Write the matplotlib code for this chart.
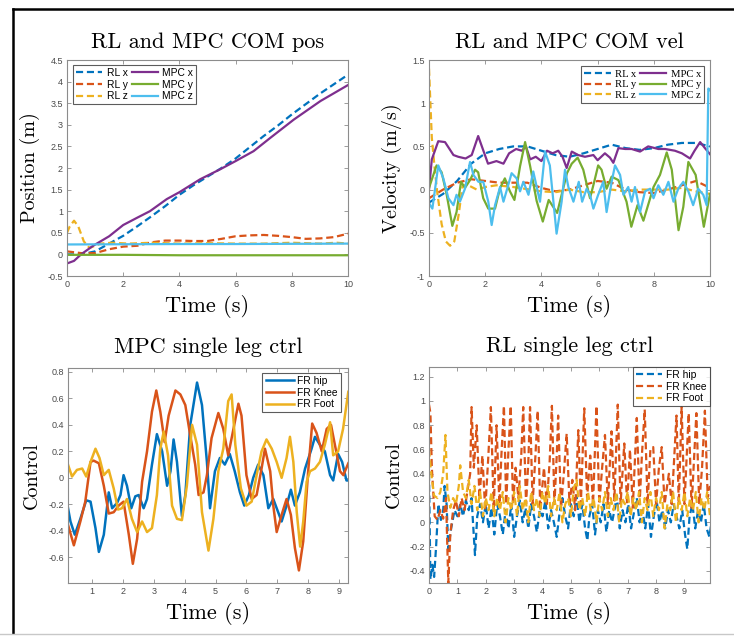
import matplotlib
matplotlib.use("Agg")
import matplotlib.pyplot as plt
from matplotlib.lines import Line2D

plt.rcParams['axes.unicode_minus'] = False

# ---- colours (MATLAB defaults)
C_BLUE = '#0072BD'
C_ORANGE = '#D95319'
C_YELLOW = '#EDB120'
C_PURPLE = '#7E2F8E'
C_GREEN = '#77AC30'
C_CYAN = '#4DBEEE'

# ---- COM position (top left)
pos_t = [0, 0.5, 1, 1.5, 2, 2.5, 3, 3.5, 4, 4.5, 5, 5.5, 6, 6.5, 7, 7.5, 8, 8.5, 9, 9.5, 10]
rl_px = [0.0, 0.0, 0.07, 0.25, 0.43, 0.65, 0.88, 1.12, 1.38, 1.6, 1.8, 2.0, 2.22, 2.48, 2.74,
         2.98, 3.24, 3.48, 3.72, 3.94, 4.16]
rl_py = [0.07, 0.03, 0.03, 0.12, 0.18, 0.2, 0.28, 0.32, 0.32, 0.31, 0.31, 0.36, 0.42, 0.44, 0.45,
         0.43, 0.4, 0.36, 0.37, 0.4, 0.48]
rl_pz_t = [0, 0.1, 0.25, 0.4, 0.6, 0.8, 1.0, 1.2, 1.6, 2.2, 3, 4, 5, 6, 7, 8, 9, 9.6, 10]
rl_pz = [0.5, 0.65, 0.78, 0.65, 0.3, 0.15, 0.2, 0.25, 0.27, 0.25, 0.27, 0.25, 0.26, 0.25, 0.25,
         0.27, 0.25, 0.27, 0.25]
mpc_px_t = [0, 0.25, 0.5, 0.93, 1.5, 2, 2.5, 2.95, 3.55, 4, 4.74, 5.45, 6, 6.64, 7.24, 8.07, 9.02, 10]
mpc_px = [-0.21, -0.15, 0.0, 0.2, 0.42, 0.68, 0.85, 1.0, 1.28, 1.44, 1.74, 1.97, 2.16, 2.39, 2.7,
          3.12, 3.55, 3.92]
mpc_py_t = [0, 2, 4, 6, 8, 10]
mpc_py = [-0.01, -0.01, -0.02, -0.02, -0.02, -0.02]
mpc_pz = [0.23, 0.235, 0.24, 0.24, 0.245, 0.25]

# ---- COM velocity (top right)
vel_t = [0, 0.5, 1, 1.5, 2, 2.5, 3, 3.5, 4, 4.5, 5, 5.5, 6, 6.5, 7, 7.5, 8, 8.5, 9, 9.5, 10]
rl_vx = [-0.15, -0.05, 0.1, 0.3, 0.42, 0.47, 0.5, 0.5, 0.45, 0.4, 0.38, 0.42, 0.47, 0.52, 0.48,
         0.46, 0.48, 0.52, 0.54, 0.54, 0.5]
rl_vy = [-0.1, 0.0, 0.08, 0.12, 0.1, 0.08, 0.08, 0.08, 0.02, -0.02, 0.0, 0.05, 0.1, 0.08, 0.0,
         -0.03, -0.04, 0.0, 0.05, 0.1, 0.02]
rl_vz_t = [0, 0.05, 0.1, 0.2, 0.3, 0.45, 0.6, 0.75, 0.9, 1.05, 1.2, 1.4, 1.7, 2, 2.4, 3, 3.6, 4,
           4.5, 5, 5.5, 6, 6.5, 7, 7.5, 8, 8.5, 9, 9.5, 10]
rl_vz = [1.4, 1.0, 0.6, 0.25, -0.05, -0.4, -0.6, -0.65, -0.6, -0.3, 0.05, 0.05, 0.0, 0.03, 0.05,
         0.03, 0.0, -0.02, -0.03, 0.0, -0.03, -0.03, 0.0, -0.02, 0.0, 0.0, 0.0, 0.02, -0.02, -0.05]
mpc_vx_t = [0, 0.1, 0.33, 0.57, 0.87, 1.04, 1.3, 1.52, 1.75, 2.1, 2.4, 2.65, 2.85, 3.1, 3.3, 3.45,
            3.6, 3.8, 4.0, 4.2, 4.4, 4.6, 4.75, 4.9, 5.08, 5.31, 5.55, 5.85, 6.0, 6.26, 6.44, 6.56,
            6.74, 6.98, 7.21, 7.51, 7.8, 8.16, 8.4, 8.75, 9.0, 9.29, 9.45, 9.65, 9.82, 10]
mpc_vx = [0.0, 0.35, 0.56, 0.55, 0.4, 0.38, 0.36, 0.4, 0.62, 0.3, 0.33, 0.3, 0.42, 0.47, 0.45,
          0.5, 0.35, 0.38, 0.33, 0.45, 0.42, 0.45, 0.38, 0.25, 0.44, 0.4, 0.38, 0.4, 0.34, 0.42,
          0.37, 0.31, 0.48, 0.47, 0.47, 0.44, 0.5, 0.47, 0.47, 0.45, 0.42, 0.36, 0.45, 0.55, 0.48,
          0.41]
mpc_vy_t = [0, 0.27, 0.45, 0.63, 0.83, 0.98, 1.14, 1.28, 1.46, 1.64, 1.75, 1.93, 2.11, 2.35, 2.53,
            2.7, 2.88, 3.04, 3.24, 3.42, 3.6, 3.83, 4.05, 4.26, 4.56, 4.91, 5.08, 5.29, 5.49, 5.73,
            5.88, 6.02, 6.14, 6.32, 6.5, 6.74, 7.03, 7.2, 7.42, 7.63, 7.99, 8.22, 8.46, 8.64, 8.88,
            9.05, 9.23, 9.49, 9.78, 10]
mpc_vy = [0.02, 0.28, 0.2, -0.06, -0.42, -0.26, 0.09, 0.02, 0.11, 0.23, 0.2, -0.1, -0.22, -0.22,
          0.02, 0.13, -0.02, -0.12, 0.27, 0.55, 0.27, -0.13, -0.37, -0.12, -0.27, 0.19, 0.3, 0.37,
          0.23, -0.1, 0.09, 0.28, 0.23, 0.01, 0.15, 0.11, -0.14, -0.43, -0.18, -0.36, 0.03, 0.17,
          0.43, 0.23, -0.47, -0.2, 0.32, 0.17, -0.43, -0.05]
mpc_vz_t = [0, 0.04, 0.12, 0.33, 0.51, 0.69, 0.87, 0.98, 1.1, 1.28, 1.46, 1.58, 1.76, 1.93, 2.11,
            2.23, 2.35, 2.53, 2.65, 2.8, 2.94, 3.12, 3.24, 3.36, 3.54, 3.71, 3.95, 4.13, 4.3, 4.54,
            4.72, 4.84, 4.96, 5.14, 5.33, 5.45, 5.61, 5.73, 5.85, 6.02, 6.2, 6.32, 6.5, 6.62, 6.8,
            6.92, 7.09, 7.21, 7.33, 7.51, 7.69, 7.87, 7.99, 8.16, 8.34, 8.52, 8.7, 8.87, 9.05,
            9.23, 9.4, 9.58, 9.76, 9.88, 9.94, 10]
mpc_vz = [-0.15, -0.18, -0.22, 0.28, 0.13, -0.1, -0.18, -0.06, -0.14, 0.01, 0.32, 0.17, 0.09,
          0.09, -0.14, -0.41, -0.18, 0.03, -0.14, 0.03, 0.19, 0.13, -0.02, 0.09, -0.06, 0.21,
          -0.14, 0.44, 0.28, -0.51, -0.14, 0.23, 0.03, -0.14, 0.09, -0.14, 0.01, -0.06, -0.22,
          -0.06, 0.09, -0.26, 0.09, 0.28, 0.17, -0.06, 0.03, -0.14, 0.03, -0.26, -0.02, 0.01,
          -0.1, 0.05, -0.06, 0.09, -0.14, 0.01, 0.09, -0.02, -0.18, 0.01, -0.06, -0.18, 1.17, 1.15]

# ---- MPC single leg control (bottom left)
hip_t = [0.19, 0.3, 0.44, 0.62, 0.81, 0.95, 1.11, 1.22, 1.38, 1.54, 1.65, 1.81, 1.92, 2.02, 2.13,
         2.27, 2.4, 2.51, 2.67, 2.78, 2.94, 3.1, 3.27, 3.43, 3.54, 3.64, 3.75, 3.91, 4.02, 4.18,
         4.4, 4.56, 4.72, 4.82, 4.98, 5.14, 5.3, 5.46, 5.62, 5.79, 5.93, 6.08, 6.22, 6.38, 6.55,
         6.71, 6.87, 6.98, 7.14, 7.3, 7.44, 7.57, 7.73, 7.9, 8.11, 8.22, 8.38, 8.54, 8.71, 8.81,
         8.97, 9.1, 9.24, 9.3]
hip_u = [-0.19, -0.33, -0.43, -0.31, -0.17, -0.18, -0.38, -0.56, -0.43, -0.11, -0.23, -0.19,
         -0.13, 0.02, -0.06, -0.23, -0.14, -0.13, -0.23, -0.16, 0.1, 0.33, 0.2, -0.06, 0.05, 0.29,
         0.12, -0.29, -0.13, 0.4, 0.72, 0.55, 0.12, -0.23, 0.05, 0.15, 0.1, 0.18, 0.05, -0.11,
         -0.21, -0.13, 0.0, 0.1, 0.02, -0.23, -0.16, -0.23, -0.33, -0.21, -0.09, -0.21, -0.11,
         0.07, 0.22, 0.31, 0.25, 0.2, 0.02, -0.02, 0.18, 0.12, -0.02, -0.02]
knee_t = [0.19, 0.41, 0.62, 0.78, 0.95, 1.05, 1.22, 1.38, 1.54, 1.7, 1.86, 2.02, 2.19, 2.32, 2.46,
          2.62, 2.78, 2.94, 3.08, 3.21, 3.35, 3.48, 3.7, 3.86, 4.02, 4.18, 4.34, 4.45, 4.61, 4.72,
          4.87, 5.09, 5.25, 5.41, 5.58, 5.74, 5.84, 6.0, 6.17, 6.33, 6.49, 6.6, 6.77, 6.87, 6.98,
          7.14, 7.3, 7.44, 7.57, 7.7, 7.84, 8.0, 8.13, 8.27, 8.44, 8.6, 8.74, 8.89, 9.03, 9.14, 9.3]
knee_u = [-0.33, -0.51, -0.33, -0.18, 0.12, 0.13, 0.11, -0.06, -0.27, -0.26, -0.21, -0.18, -0.43,
          -0.65, -0.46, -0.03, 0.2, 0.5, 0.66, 0.5, 0.27, 0.47, 0.66, 0.63, 0.55, 0.32, 0.1, -0.13,
          -0.11, 0.02, 0.3, 0.49, 0.37, 0.17, 0.37, 0.56, 0.47, 0.02, -0.16, -0.13, 0.07, 0.22,
          0.05, -0.21, -0.41, -0.28, -0.16, -0.28, -0.53, -0.7, -0.48, 0.05, 0.41, 0.34, 0.2, 0.37,
          0.4, 0.22, 0.05, 0.02, 0.11]
foot_t = [0.19, 0.35, 0.51, 0.68, 0.81, 0.95, 1.11, 1.24, 1.38, 1.54, 1.7, 1.84, 1.97, 2.13, 2.29,
          2.46, 2.62, 2.78, 2.94, 3.1, 3.21, 3.32, 3.46, 3.59, 3.75, 3.91, 4.07, 4.24, 4.4, 4.56,
          4.77, 4.93, 5.09, 5.25, 5.41, 5.52, 5.64, 5.82, 6.0, 6.17, 6.33, 6.49, 6.65, 6.82, 6.98,
          7.14, 7.3, 7.41, 7.52, 7.63, 7.74, 7.84, 7.95, 8.06, 8.22, 8.38, 8.54, 8.71, 8.81, 8.97,
          9.13, 9.3]
foot_u = [0.12, 0.01, 0.06, 0.07, 0.01, 0.12, 0.22, 0.15, 0.02, 0.06, -0.08, -0.24, -0.23, -0.16,
          -0.31, -0.41, -0.33, -0.41, -0.38, -0.13, 0.22, 0.35, 0.17, -0.21, -0.31, -0.32, -0.06,
          0.4, 0.25, -0.26, -0.55, -0.31, 0.05, 0.22, 0.58, 0.63, 0.25, -0.08, -0.21, -0.18, 0.02,
          0.2, 0.29, 0.22, 0.12, 0.0, 0.15, 0.31, 0.12, -0.26, -0.52, -0.33, -0.03, 0.05, 0.07,
          0.12, 0.25, 0.42, 0.17, 0.2, 0.37, 0.65]

# ---- RL single leg control (bottom right)
rl_knee_t = [0.0, 0.05, 0.1, 0.2, 0.3, 0.4, 0.5, 0.6, 0.68, 0.75, 0.85, 0.95, 1.05, 1.15, 1.25,
             1.35, 1.45, 1.5, 1.58, 1.68, 1.78, 1.88, 1.98, 2.08, 2.18, 2.28, 2.38, 2.48, 2.55,
             2.64, 2.72, 2.8, 2.88, 2.96, 3.05, 3.15, 3.25, 3.32, 3.42, 3.5, 3.56, 3.65, 3.75,
             3.83, 3.92, 4.05, 4.15, 4.25, 4.33, 4.42, 4.5, 4.55, 4.65, 4.75, 4.85, 4.95, 5.05,
             5.15, 5.26, 5.35, 5.47, 5.57, 5.68, 5.78, 5.9, 6.0, 6.1, 6.2, 6.3, 6.43, 6.53, 6.65,
             6.75, 6.88, 6.98, 7.08, 7.18, 7.32, 7.42, 7.5, 7.6, 7.7, 7.8, 7.9, 8.0, 8.1, 8.2,
             8.3, 8.45, 8.55, 8.72, 8.8, 8.9, 9.0, 9.15, 9.25, 9.42, 9.52, 9.62, 9.72, 9.82, 9.9]
rl_knee_u = [0.97, 0.9, 0.45, 0.05, 0.02, 0.1, 0.03, 0.2, -0.5, -0.1, 0.1, 0.18, 0.05, 0.2, 0.1,
             0.25, 0.4, 0.95, 0.45, 0.8, 0.2, 0.55, 0.1, 0.5, 0.95, 0.1, 0.8, 0.15, 0.55, 0.96,
             0.15, 0.6, 0.96, 0.15, 0.45, 0.2, 0.55, 0.95, 0.15, 0.5, 0.95, 0.15, 0.55, 0.92, 0.1,
             0.45, 0.15, 0.5, 0.96, 0.15, 0.55, 0.88, 0.12, 0.4, 0.73, 0.15, 0.35, 0.1, 0.76, 0.15,
             0.94, 0.2, 0.55, 0.15, 0.96, 0.15, 0.45, 0.72, 0.15, 0.75, 0.18, 0.97, 0.15, 0.65,
             0.15, 0.6, 0.12, 0.86, 0.15, 0.55, 0.93, 0.15, 0.6, 0.62, 0.15, 0.45, 0.62, 0.15,
             0.4, 0.15, 0.88, 0.15, 0.95, 0.15, 0.9, 0.12, 0.9, 0.15, 0.45, 0.92, 0.2, 0.3]
rl_hip_t = [0.0, 0.05, 0.12, 0.18, 0.25, 0.33, 0.42, 0.5, 0.55, 0.62, 0.68, 0.78, 0.9, 1.0, 1.1,
            1.2, 1.3, 1.4, 1.5, 1.55, 1.62, 1.7, 1.8, 1.9, 2.0, 2.1, 2.2, 2.3, 2.4, 2.5, 2.6, 2.7,
            2.8, 2.9, 3.0, 3.1, 3.2, 3.3, 3.4, 3.5, 3.6, 3.7, 3.8, 3.9, 4.0, 4.1, 4.2, 4.3, 4.4,
            4.5, 4.6, 4.7, 4.8, 4.9, 5.0, 5.1, 5.2, 5.3, 5.4, 5.5, 5.58, 5.65, 5.75, 5.85, 5.95,
            6.05, 6.15, 6.25, 6.35, 6.45, 6.55, 6.62, 6.72, 6.82, 6.92, 7.02, 7.12, 7.22, 7.32,
            7.42, 7.52, 7.62, 7.72, 7.82, 7.92, 8.02, 8.12, 8.22, 8.32, 8.42, 8.52, 8.62, 8.72,
            8.82, 8.92, 9.02, 9.1, 9.18, 9.28, 9.38, 9.48, 9.58, 9.68, 9.78, 9.88, 9.95]
rl_hip_u = [0.4, -0.47, -0.35, -0.45, -0.2, 0.15, 0.02, 0.1, 0.3, 0.15, -0.22, -0.05, 0.1, 0.05,
            0.15, 0.05, 0.18, 0.1, 0.2, 0.0, -0.27, 0.05, 0.15, 0.0, 0.15, -0.05, 0.12, -0.1, 0.15,
            0.05, -0.1, 0.1, -0.05, 0.15, -0.12, 0.05, 0.18, 0.0, 0.12, -0.05, 0.15, 0.05, -0.08,
            0.1, 0.05, 0.18, -0.05, 0.1, 0.0, -0.12, 0.08, 0.2, 0.05, -0.05, 0.15, 0.05, 0.22, 0.0,
            0.15, -0.05, -0.15, 0.05, 0.15, -0.1, 0.1, 0.0, 0.15, -0.08, 0.1, 0.0, 0.12, 0.22,
            -0.05, 0.1, 0.0, 0.15, -0.05, 0.08, 0.2, 0.0, 0.1, -0.05, 0.15, -0.12, 0.05, 0.18, 0.0,
            0.1, -0.05, 0.1, 0.0, 0.15, 0.05, -0.05, 0.1, -0.1, -0.22, 0.05, 0.15, -0.05, 0.1, 0.0,
            0.15, -0.05, -0.12, 0.0]
rl_foot_t = [0.0, 0.08, 0.18, 0.3, 0.4, 0.5, 0.58, 0.65, 0.75, 0.85, 0.95, 1.05, 1.1, 1.2, 1.3,
             1.4, 1.5, 1.6, 1.7, 1.8, 1.9, 2.0, 2.1, 2.2, 2.3, 2.4, 2.5, 2.6, 2.7, 2.8, 2.9, 3.0,
             3.1, 3.2, 3.3, 3.4, 3.5, 3.6, 3.7, 3.8, 3.9, 4.0, 4.1, 4.2, 4.3, 4.4, 4.5, 4.6, 4.7,
             4.8, 4.9, 5.0, 5.1, 5.2, 5.3, 5.4, 5.5, 5.6, 5.7, 5.8, 5.9, 6.0, 6.1, 6.2, 6.3, 6.4,
             6.5, 6.6, 6.7, 6.8, 6.9, 7.0, 7.1, 7.2, 7.3, 7.4, 7.5, 7.6, 7.7, 7.8, 7.9, 8.0, 8.1,
             8.2, 8.3, 8.4, 8.5, 8.6, 8.7, 8.8, 8.9, 9.0, 9.1, 9.2, 9.3, 9.4, 9.5, 9.6, 9.7, 9.8,
             9.9]
rl_foot_u = [0.6, 0.4, 0.22, 0.2, 0.25, 0.4, 0.72, 0.25, 0.12, 0.2, 0.15, 0.3, 0.47, 0.25, 0.2,
             0.35, 0.15, 0.3, 0.1, 0.25, 0.05, 0.2, 0.1, 0.25, 0.05, 0.2, 0.1, 0.25, 0.0, 0.2, 0.1,
             0.25, 0.05, 0.3, 0.1, 0.2, 0.0, 0.25, 0.1, 0.2, 0.05, 0.25, 0.15, 0.3, 0.05, 0.2, 0.1,
             0.25, 0.0, 0.15, 0.2, 0.05, 0.28, 0.35, 0.1, 0.2, 0.05, 0.25, 0.1, 0.2, 0.0, 0.2, 0.1,
             0.25, 0.05, 0.2, 0.1, 0.25, 0.0, 0.2, 0.15, 0.25, 0.05, 0.2, 0.1, 0.25, 0.0, 0.2, 0.1,
             0.25, 0.05, 0.2, 0.1, 0.25, -0.05, 0.15, 0.1, 0.25, 0.0, 0.2, 0.1, 0.25, 0.05, 0.2,
             0.1, 0.25, 0.0, 0.2, 0.1, 0.25, 0.05]

SERIF = 'cmr10'
SANS = 'Liberation Sans'
TXT = '#4a4a4a'
SPINE = '#8c8c8c'
DASH = (0, (3.2, 1.7))
LW = 1.6

fig = plt.figure(figsize=(7.34, 6.43), dpi=100)


def style_axes(ax, title, ylabel, title_pad):
    ax.set_title(title, fontfamily=SERIF, fontsize=16, pad=title_pad)
    ax.set_xlabel('Time (s)', fontfamily=SERIF, fontsize=16, labelpad=4)
    ax.set_ylabel(ylabel, fontfamily=SERIF, fontsize=14.5, labelpad=5)
    for sp in ax.spines.values():
        sp.set_color(SPINE)
        sp.set_linewidth(0.8)
    ax.tick_params(direction='in', length=3, width=0.6, color=SPINE, labelcolor=TXT,
                   labelsize=6.5, top=True, right=True, pad=3)
    for lab in ax.get_xticklabels() + ax.get_yticklabels():
        lab.set_fontfamily(SANS)


def fmt(vals):
    out = []
    for v in vals:
        s = ('%.1f' % v).rstrip('0').rstrip('.')
        out.append('0' if s in ('-0', '') else s)
    return out


# ---------- top left
ax1 = fig.add_axes([67 / 734, 1 - 276 / 643, 281 / 734, 216 / 643])
h1, = ax1.plot(pos_t, rl_px, color=C_BLUE, lw=LW, ls=DASH, label='RL x')
h2, = ax1.plot(pos_t, rl_py, color=C_ORANGE, lw=LW, ls=DASH, label='RL y')
h3, = ax1.plot(rl_pz_t, rl_pz, color=C_YELLOW, lw=LW, ls=DASH, label='RL z')
h4, = ax1.plot(mpc_px_t, mpc_px, color=C_PURPLE, lw=LW, label='MPC x')
h5, = ax1.plot(mpc_py_t, mpc_py, color=C_GREEN, lw=LW, label='MPC y')
h6, = ax1.plot(mpc_py_t, mpc_pz, color=C_CYAN, lw=LW, label='MPC z')
ax1.set_xlim(0, 10)
ax1.set_ylim(-0.5, 4.5)
yt = [-0.5 + 0.5 * i for i in range(11)]
ax1.set_yticks(yt, fmt(yt))
ax1.set_xticks([0, 2, 4, 6, 8, 10], ['0', '2', '4', '6', '8', '10'])
style_axes(ax1, 'RL and MPC COM pos', 'Position (m)', 9)
leg = ax1.legend(handles=[h1, h2, h3, h4, h5, h6], ncol=2, loc='upper left',
                 bbox_to_anchor=(0.02, 0.977), borderaxespad=0, fancybox=False,
                 edgecolor='#333333', prop={'family': SANS, 'size': 7.4}, handlelength=2.6,
                 handletextpad=0.4, columnspacing=0.4, labelspacing=0.15, borderpad=0.3)
leg.get_frame().set_linewidth(0.8)

# ---------- top right
ax2 = fig.add_axes([429 / 734, 1 - 276 / 643, 281 / 734, 216 / 643])
g1, = ax2.plot(vel_t, rl_vx, color=C_BLUE, lw=LW, ls=DASH, label='RL x')
g2, = ax2.plot(vel_t, rl_vy, color=C_ORANGE, lw=LW, ls=DASH, label='RL y')
g3, = ax2.plot(rl_vz_t, rl_vz, color=C_YELLOW, lw=LW, ls=DASH, label='RL z')
g4, = ax2.plot(mpc_vx_t, mpc_vx, color=C_PURPLE, lw=LW, label='MPC x')
g5, = ax2.plot(mpc_vy_t, mpc_vy, color=C_GREEN, lw=LW, label='MPC y')
g6, = ax2.plot(mpc_vz_t, mpc_vz, color=C_CYAN, lw=LW, label='MPC z')
ax2.set_xlim(0, 10)
ax2.set_ylim(-1, 1.5)
yt = [-1, -0.5, 0, 0.5, 1, 1.5]
ax2.set_yticks(yt, fmt(yt))
ax2.set_xticks([0, 2, 4, 6, 8, 10], ['0', '2', '4', '6', '8', '10'])
style_axes(ax2, 'RL and MPC COM vel', 'Velocity (m/s)', 9)
leg = ax2.legend(handles=[g1, g2, g3, g4, g5, g6], ncol=2, loc='upper right',
                 bbox_to_anchor=(0.979, 0.972), borderaxespad=0, fancybox=False,
                 edgecolor='#333333', prop={'family': 'Liberation Serif', 'size': 7.7},
                 handlelength=2.5, handletextpad=0.4, columnspacing=0.3, labelspacing=0.1,
                 borderpad=0.3)
leg.get_frame().set_linewidth(0.8)

# ---------- bottom left
ax3 = fig.add_axes([68 / 734, 1 - 583 / 643, 280 / 734, 215 / 643])
ax3.plot(hip_t, hip_u, color=C_BLUE, lw=LW + 0.2, label='FR hip')
ax3.plot(knee_t, knee_u, color=C_ORANGE, lw=LW + 0.2, label='FR Knee')
ax3.plot(foot_t, foot_u, color=C_YELLOW, lw=LW + 0.2, label='FR Foot')
ax3.set_xlim(0.22, 9.29)
ax3.set_ylim(-0.795, 0.83)
yt = [-0.6, -0.4, -0.2, 0, 0.2, 0.4, 0.6, 0.8]
ax3.set_yticks(yt, fmt(yt))
ax3.set_xticks(range(1, 10), [str(i) for i in range(1, 10)])
style_axes(ax3, 'MPC single leg ctrl', 'Control', 11)
leg = ax3.legend(loc='upper right', bbox_to_anchor=(0.975, 0.977), borderaxespad=0,
                 fancybox=False, edgecolor='#333333', prop={'family': SANS, 'size': 7.4},
                 handlelength=2.8, handletextpad=0.3, labelspacing=0.15, borderpad=0.3)
leg.get_frame().set_linewidth(0.8)

# ---------- bottom right
ax4 = fig.add_axes([429 / 734, 1 - 583 / 643, 281 / 734, 216 / 643])
ax4.plot(rl_hip_t, rl_hip_u, color=C_BLUE, lw=LW, ls=DASH, label='FR hip')
ax4.plot(rl_knee_t, rl_knee_u, color=C_ORANGE, lw=LW, ls=DASH, label='FR Knee')
ax4.plot(rl_foot_t, rl_foot_u, color=C_YELLOW, lw=LW, ls=DASH, label='FR Foot')
ax4.set_xlim(0, 9.9)
ax4.set_ylim(-0.5, 1.28)
yt = [-0.4, -0.2, 0, 0.2, 0.4, 0.6, 0.8, 1, 1.2]
ax4.set_yticks(yt, fmt(yt))
ax4.set_xticks(range(0, 10), [str(i) for i in range(0, 10)])
style_axes(ax4, 'RL single leg ctrl', 'Control', 11)
leg = ax4.legend(loc='upper right', bbox_to_anchor=(1.0, 1.0), borderaxespad=0,
                 fancybox=False, edgecolor='#333333', prop={'family': SANS, 'size': 7.4},
                 handlelength=2.6, handletextpad=0.4, labelspacing=0.15, borderpad=0.3)
leg.get_frame().set_linewidth(0.8)

# ---------- page frame
W, H = 734, 643
fig.add_artist(Line2D([13 / W, 13 / W], [1 - 9 / H, 1 - 633 / H], color='black', lw=1.8,
                      transform=fig.transFigure))
fig.add_artist(Line2D([13 / W, 1.0], [1 - 9 / H, 1 - 9 / H], color='black', lw=1.8,
                      transform=fig.transFigure))
fig.add_artist(Line2D([0, 1.0], [1 - 634 / H, 1 - 634 / H], color='#c8c8c8', lw=1.0,
                      transform=fig.transFigure))

fig.savefig('out.png', dpi=100)
